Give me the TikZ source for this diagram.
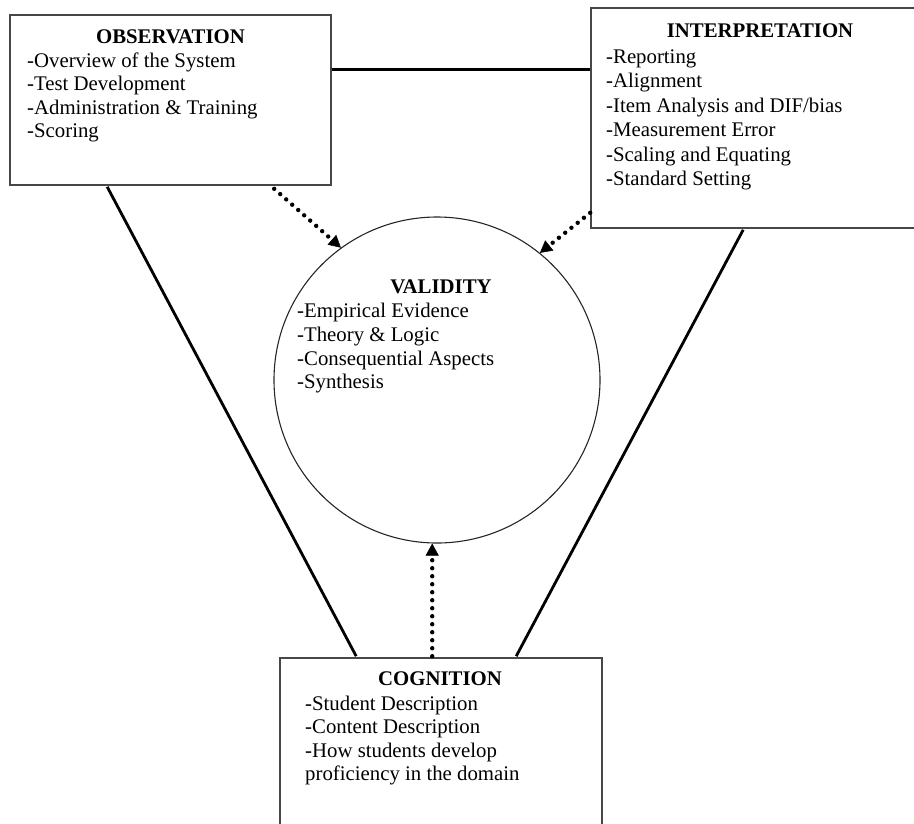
\documentclass[tikz,border=0pt]{standalone}
\usepackage{fontspec}
\setmainfont{Liberation Serif}
\usetikzlibrary{arrows.meta,calc}
\begin{document}
\begin{tikzpicture}[x=1pt,y=-1pt,
  box/.style={draw=black!72, line width=1.6pt, rectangle, inner sep=0pt, fill=white},
  ring/.style={draw=black!85, line width=1.1pt, circle, inner sep=0pt, minimum size=326pt},
  ttl/.style={font=\fontsize{20.8}{24}\selectfont\bfseries, anchor=base, inner sep=0pt},
  itm/.style={font=\fontsize{20.8}{24}\selectfont, anchor=base west, inner sep=0pt},
  link/.style={line width=2.8pt, black},
  dotarrow/.style={line width=4.4pt, dash pattern=on 0pt off 8pt, line cap=round,
    -{Triangle[length=12pt,width=13pt,line width=0.5pt]}}]
\useasboundingbox (0,0) rectangle (914,823);
\clip (0,0) rectangle (914,823);

% boxes and circle
\node[box, minimum width=321pt, minimum height=170pt] (obs) at (170.5,100) {};
\node[box, minimum width=346pt, minimum height=220pt] (interp) at (764,118) {};
\node[ring] (valid) at (437,380) {};
\node[box, minimum width=322pt, minimum height=200pt] (cog) at (441,758) {};

% solid connectors
\draw[link] ($(obs.north east)+(0,55)$) -- ($(interp.north west)+(0,62)$);
\draw[link] ($(obs.south west)+(98,1)$) -- ($(cog.north west)+(77,-1)$);
\draw[link] ($(interp.south west)+(153,1)$) -- ($(cog.north west)+(237,-1)$);

% dotted arrows
\coordinate (obsout) at ($(obs.south west)+(265,3)$);
\coordinate (intout) at ($(interp.south west)+(0,-16)$);
\coordinate (cogout) at ($(cog.north west)+(153,-1)$);
\draw[dotarrow] (obsout) -- (valid.126);
\draw[dotarrow] (intout) -- (valid.51);
\draw[dotarrow] (cogout) -- (cogout |- valid.south);

% OBSERVATION text
\node[ttl] (obst) at (170.5,43) {OBSERVATION};
\node[itm] (o1) at (27,67) {-Overview of the System};
\node[itm] (o2) at (27,90.5) {-Test Development};
\node[itm] (o3) at (27,114) {-Administration \& Training};
\node[itm] (o4) at (27,137.5) {-Scoring};

% INTERPRETATION text
\node[ttl] (intt) at (760,37) {INTERPRETATION};
\node[itm] (i1) at (606,63) {-Reporting};
\node[itm] (i2) at (606,87.5) {-Alignment};
\node[itm] (i3) at (606,112) {-Item Analysis and DIF/bias};
\node[itm] (i4) at (606,136.5) {-Measurement Error};
\node[itm] (i5) at (606,161) {-Scaling and Equating};
\node[itm] (i6) at (606,185.5) {-Standard Setting};

% VALIDITY text
\node[ttl] (valt) at (441,293) {VALIDITY};
\node[itm] (v1) at (297,317) {-Empirical Evidence};
\node[itm] (v2) at (297,341) {-Theory \& Logic};
\node[itm] (v3) at (297,365) {-Consequential Aspects};
\node[itm] (v4) at (297,388.5) {-Synthesis};

% COGNITION text
\node[ttl] (cogt) at (440,685) {COGNITION};
\node[itm] (c1) at (305,710) {-Student Description};
\node[itm] (c2) at (305,733.5) {-Content Description};
\node[itm] (c3) at (305,757) {-How students develop};
\node[itm] (c4) at (305,780.5) {proficiency in the domain};
\end{tikzpicture}
\end{document}
